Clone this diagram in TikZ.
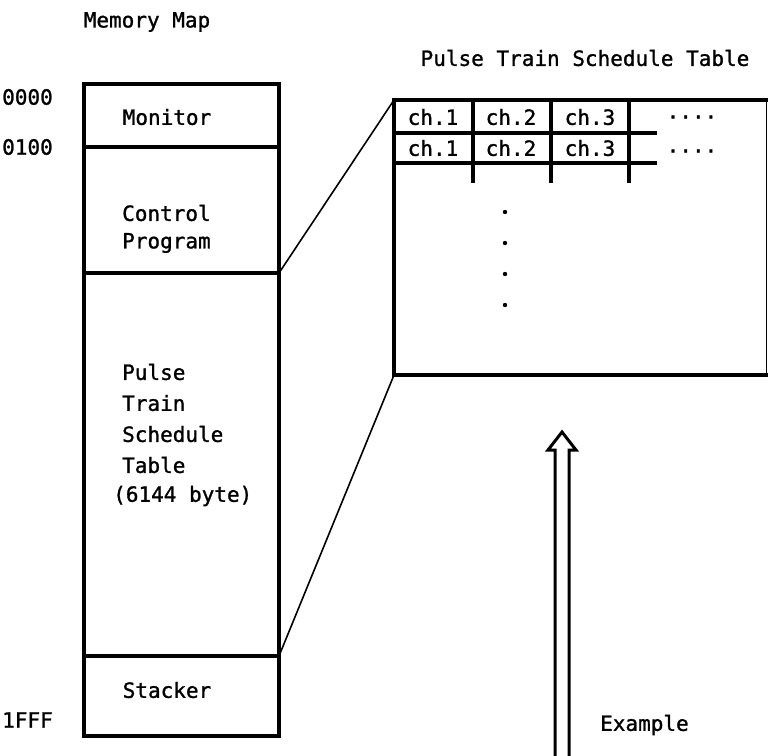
\documentclass[tikz,border=0pt]{standalone}
\usepackage{fontspec}
\setmainfont[FakeBold=1.2]{DejaVu Sans Mono}
\begin{document}
\begin{tikzpicture}[x=1pt,y=-1pt,
  thickline/.style={line width=3.2pt},
  thinline/.style={line width=1.6pt},
  lbl/.style={inner sep=0pt,font=\fontsize{21}{21}\selectfont},
  lbll/.style={lbl,anchor=west},
  cell/.style={lbl}]
\useasboundingbox (0,0) rectangle (768,755);
% memory map box
\coordinate (mTL) at (84,84);
\coordinate (mBR) at (279,736);
\draw[thickline] (mTL) rectangle (mBR);
\coordinate (d1L) at (84,147); \coordinate (d1R) at (279,147);
\coordinate (d2L) at (84,273); \coordinate (d2R) at (279,273);
\coordinate (d3L) at (84,656); \coordinate (d3R) at (279,656);
\draw[thickline] (d1L) -- (d1R);
\draw[thickline] (d2L) -- (d2R);
\draw[thickline] (d3L) -- (d3R);
% labels left
\node[lbl] (title1) at (147,22) {Memory Map};
\node[lbll] (a0) at (2,97) {0000};
\node[lbll] (a1) at (2,147) {0100};
\node[lbll] (a2) at (2,720) {1FFF};
\node[lbl] (mon) at (167,117) {Monitor};
\node[lbll] (cp1) at (122,213) {Control};
\node[lbll] (cp2) at (122,243) {Program};
\node[lbll] (p1) at (122,372) {Pulse};
\node[lbll] (p2) at (122,403) {Train};
\node[lbll] (p3) at (122,434) {Schedule};
\node[lbll] (p4) at (122,465) {Table};
\node[lbll] (p5) at (113,496) {(6144 byte)};
\node[lbl] (stk) at (167,690) {Stacker};
% right table
\node[lbl] (title2) at (585,58) {Pulse Train Schedule Table};
\coordinate (tTL) at (394,100);
\coordinate (tTR) at (768,100);
\coordinate (tBL) at (394,375);
\coordinate (tBR) at (768,375);
\draw[thickline] (tTR) -- (tTL) -- (tBL) -- (tBR);
\draw[line width=0.6pt] (766,100) -- (766,375);
% zoom lines
\draw[thinline] (d2R) -- (tTL);
\draw[thinline] (d3R) -- (tBL);
% cells
\coordinate (h1L) at (394,133); \coordinate (h1R) at (657,133);
\coordinate (h2L) at (394,163); \coordinate (h2R) at (657,163);
\draw[thickline] (h1L) -- (h1R);
\draw[thickline] (h2L) -- (h2R);
\foreach \x in {473,551,629} {\draw[thickline] (\x,102) -- (\x,183);}
\node[cell] (c11) at (433,117) {ch.1};
\node[cell] (c12) at (511,117) {ch.2};
\node[cell] (c13) at (590,117) {ch.3};
\node[cell] (c21) at (433,148) {ch.1};
\node[cell] (c22) at (511,148) {ch.2};
\node[cell] (c23) at (590,148) {ch.3};
\node[cell] (dd1) at (692,117) {....};
\node[cell] (dd2) at (692,151) {....};
\foreach \y in {212,243,274,305} {\fill (505,\y) circle (2.2);}
% hollow arrow
\coordinate (tip) at (562,432);
\draw[line width=3pt,line join=miter] (555,756) -- (555,450) -- (548,450) -- (tip) -- (576,450) -- (569,450) -- (569,756);
\node[lbll] (ex) at (600,725) {Example};
\end{tikzpicture}
\end{document}
